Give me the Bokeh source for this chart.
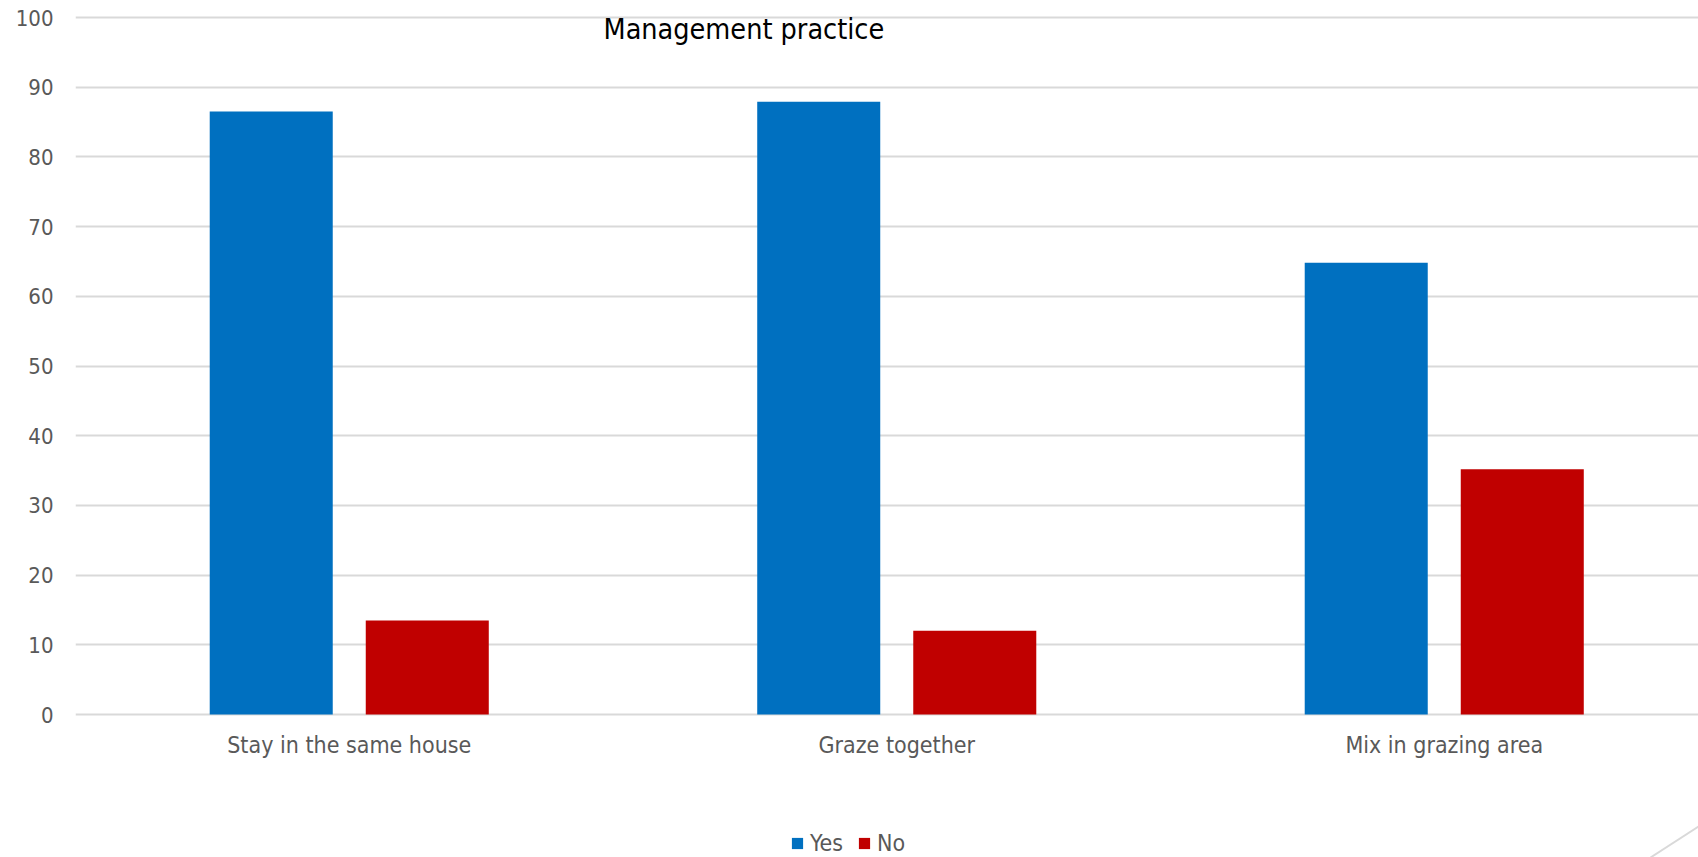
from bokeh.plotting import figure
from bokeh.models import (ColumnDataSource, Range1d, FixedTicker, Legend, LegendItem,
                          Label)
from bokeh.core.properties import value
from bokeh.embed import file_html
from bokeh.resources import INLINE

# Survey responses (%) on livestock management practices
categories = ["Stay in the same house", "Graze together", "Mix in grazing area"]
yes_values = [86.5, 87.9, 64.8]
no_values = [13.5, 12.0, 35.2]
y_ticks = [0, 10, 20, 30, 40, 50, 60, 70, 80, 90, 100]
series_names = ["Yes", "No"]

BLUE = "#0070C0"
RED = "#C00000"
GREY_TEXT = "#595959"
GRID = "#D9D9D9"
FONT = "DejaVu Sans Condensed"

W, H = 1698, 857
LEFT = 75            # room for the value axis
BASE_PX = 714        # canvas row of the zero line
TOP_PX = 17          # canvas row of the 100 line
GROUP_PX = 547.5     # width of one category slot
PX_PER_UNIT = (BASE_PX - TOP_PX) / 100.0

# the frame covers the full canvas height so that category names, legend and
# the corner stroke can all live below the zero line
y_start = -(H - BASE_PX) / PX_PER_UNIT
y_end = 100 + TOP_PX / PX_PER_UNIT

centers = [i + 0.5 for i in range(len(categories))]
offset = 0.1425
bar_w = 0.2247

p = figure(width=W, height=H, output_backend="svg", toolbar_location=None,
           x_range=Range1d(0, (W - LEFT) / GROUP_PX),
           y_range=Range1d(y_start, y_end), x_axis_location=None,
           min_border_left=LEFT, min_border_right=0, min_border_top=0,
           min_border_bottom=0)
p.outline_line_color = None
p.background_fill_color = "white"
p.border_fill_color = "white"

src = ColumnDataSource(dict(
    x_yes=[c - offset for c in centers],
    x_no=[c + offset for c in centers],
    yes=yes_values, no=no_values))

r_yes = p.vbar(x="x_yes", top="yes", bottom=0, width=bar_w, source=src,
               fill_color=BLUE, line_color=None)
r_no = p.vbar(x="x_no", top="no", bottom=0, width=bar_w, source=src,
              fill_color=RED, line_color=None)

# horizontal grid, including the zero baseline
p.xgrid.visible = False
p.ygrid.ticker = FixedTicker(ticks=y_ticks)
p.ygrid.grid_line_color = GRID
p.ygrid.grid_line_width = 2
p.ygrid.level = "underlay"

# value axis
p.yaxis.ticker = FixedTicker(ticks=y_ticks)
p.yaxis.axis_line_color = None
p.yaxis.major_tick_line_color = None
p.yaxis.minor_tick_line_color = None
p.yaxis.major_label_standoff = 16
p.yaxis.major_label_text_font = FONT
p.yaxis.major_label_text_font_size = "22px"
p.yaxis.major_label_text_color = GREY_TEXT

# category names under each group
cat_src = ColumnDataSource(dict(x=centers, y=[-17 / PX_PER_UNIT] * len(centers),
                                name=categories))
p.text(x="x", y="y", text="name", source=cat_src, text_align="center",
       text_baseline="top", text_font=value(FONT),
       text_font_size=value("23px"), text_color=GREY_TEXT)

# chart title sitting inside the plot area
title = Label(x=(603 - LEFT) / GROUP_PX, y=(BASE_PX - 29) / PX_PER_UNIT,
              text="Management practice", text_font=FONT,
              text_font_size="28.5px", text_color="black",
              text_baseline="alphabetic", text_align="left")
p.add_layout(title)

# legend along the bottom edge
legend = Legend(items=[LegendItem(label=series_names[0], renderers=[r_yes]),
                       LegendItem(label=series_names[1], renderers=[r_no])],
                orientation="horizontal", location=(790 - LEFT, 1),
                glyph_width=14, glyph_height=14, label_standoff=6, spacing=14,
                label_height=26, padding=0, margin=0, border_line_color=None,
                background_fill_alpha=0,
                label_text_font=FONT, label_text_font_size="23px",
                label_text_color=GREY_TEXT)
p.add_layout(legend, "center")

# thin decorative stroke in the lower right corner
p.line(x=[(1650 - LEFT) / GROUP_PX, (W - LEFT) / GROUP_PX],
       y=[y_start, -(826 - BASE_PX) / PX_PER_UNIT],
       line_color=GRID, line_width=2)

open("out.html", "w").write(file_html(p, INLINE))
